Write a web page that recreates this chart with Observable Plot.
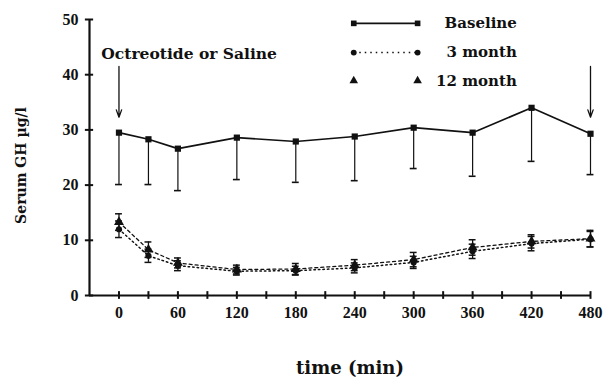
<!DOCTYPE html>
<html>
<head>
<meta charset="utf-8">
<script src="https://cdn.jsdelivr.net/npm/d3@7"></script>
<script src="https://cdn.jsdelivr.net/npm/@observablehq/plot@0.6"></script>
<style>
  html, body { margin: 0; padding: 0; background: #fff; }
  #chart { width: 608px; height: 383px; }
</style>
</head>
<body>
<div id="chart"></div>
<script>
// ---- data ----
const times = [0, 30, 60, 120, 180, 240, 300, 360, 420, 480];
const baseline = [29.5, 28.3, 26.6, 28.6, 27.9, 28.8, 30.4, 29.5, 34.0, 29.3];
const baselineLow = [20.1, 20.1, 19.0, 21.0, 20.5, 20.8, 23.0, 21.6, 24.3, 21.9];
const month3 = [12.0, 7.2, 5.4, 4.4, 4.5, 5.0, 6.0, 8.0, 9.4, 10.2];
const month3Err = [1.5, 1.2, 0.9, 0.7, 0.8, 0.9, 1.1, 1.3, 1.3, 1.4];
const month12 = [13.3, 8.3, 5.9, 4.7, 4.8, 5.5, 6.5, 8.7, 9.8, 10.3];
const month12Err = [1.5, 1.4, 0.9, 0.8, 1.0, 1.0, 1.3, 1.4, 1.2, 1.5];

const xTickLabels = [0, 60, 120, 180, 240, 300, 360, 420, 480];
const xMinorTicks = [0, 30, 60, 90, 120, 150, 180, 210, 240, 270, 300, 330, 360, 390, 420, 450, 480];
const yTicks = [0, 10, 20, 30, 40, 50];

const seriesNames = ["Baseline", "3 month", "12 month"];
const arrowTimes = [0, 480];
const annotationText = "Octreotide or Saline";
const xLabel = "time (min)";
const yLabel = "Serum GH \u00b5g/l";

// ---- tables built from arrays ----
const base = times.map((t, i) => ({t, v: baseline[i], lo: baselineLow[i]}));
const m3 = times.map((t, i) => ({t, v: month3[i], lo: month3[i] - month3Err[i], hi: month3[i] + month3Err[i]}));
const m12 = times.map((t, i) => ({t, v: month12[i], lo: month12[i] - month12Err[i], hi: month12[i] + month12Err[i]}));
const capHalf = 3.5;

// legend rows (placed in data space, upper right)
const legendY = [49.3, 44.0, 38.9];
const legX1 = 239, legX2 = 304, legTextX = 405;
const legend = seriesNames.map((name, i) => ({name, y: legendY[i]}));
const legendEnds = legend.flatMap(d => [{...d, x: legX1}, {...d, x: legX2}]);

const serif = "'DejaVu Serif', serif";
const tickFont = "'Liberation Serif', serif";
const black = "#111";
const xAxisPos = -30;   // where the y axis sits on the x scale

const chart = Plot.plot({
  width: 608,
  height: 383,
  marginLeft: 89,
  marginRight: 18,
  marginTop: 19,
  marginBottom: 88,
  x: {domain: [-30, 480]},
  y: {domain: [0, 50]},
  style: {fontFamily: tickFont, fontSize: "16px", fontWeight: "bold", color: black, background: "#fff"},
  marks: [
    // axis lines
    Plot.ruleX([xAxisPos], {stroke: black, strokeWidth: 2.2}),
    Plot.ruleY([0], {stroke: black, strokeWidth: 2.2}),
    // crossing tick marks
    Plot.ruleY(yTicks, {y: d => d, x1: xAxisPos - 4.2, x2: xAxisPos + 4.2, stroke: black, strokeWidth: 2}),
    Plot.ruleX(xMinorTicks, {x: d => d, y1: -0.7, y2: 0.7, stroke: black, strokeWidth: 2}),
    // tick labels
    Plot.axisY({ticks: yTicks, tickSize: 0, tickPadding: 11, label: null, fontSize: 16, fontFamily: tickFont, fontWeight: "bold"}),
    Plot.axisX({ticks: xTickLabels, tickSize: 0, tickPadding: 11, label: null, fontSize: 16, fontFamily: tickFont, fontWeight: "bold"}),

    // baseline error bars (downward only)
    Plot.ruleX(base, {x: "t", y1: "v", y2: "lo", stroke: black, strokeWidth: 1.2}),
    Plot.ruleY(base, {y: "lo", x1: d => d.t - capHalf, x2: d => d.t + capHalf, stroke: black, strokeWidth: 1.6}),
    Plot.line(base, {x: "t", y: "v", stroke: black, strokeWidth: 1.7}),
    Plot.dot(base, {x: "t", y: "v", symbol: "square", r: 3.5, fill: black, stroke: "none"}),

    // 12 month
    Plot.ruleX(m12, {x: "t", y1: "lo", y2: "hi", stroke: black, strokeWidth: 1.3}),
    Plot.ruleY(m12, {y: "lo", x1: d => d.t - capHalf, x2: d => d.t + capHalf, stroke: black, strokeWidth: 1.5}),
    Plot.ruleY(m12, {y: "hi", x1: d => d.t - capHalf, x2: d => d.t + capHalf, stroke: black, strokeWidth: 1.5}),
    Plot.line(m12, {x: "t", y: "v", stroke: black, strokeWidth: 1.3, strokeDasharray: "3,3"}),
    Plot.dot(m12, {x: "t", y: "v", symbol: "triangle", r: 3.7, fill: black, stroke: "none"}),

    // 3 month
    Plot.ruleX(m3, {x: "t", y1: "lo", y2: "hi", stroke: black, strokeWidth: 1.3}),
    Plot.ruleY(m3, {y: "lo", x1: d => d.t - capHalf, x2: d => d.t + capHalf, stroke: black, strokeWidth: 1.5}),
    Plot.ruleY(m3, {y: "hi", x1: d => d.t - capHalf, x2: d => d.t + capHalf, stroke: black, strokeWidth: 1.5}),
    Plot.line(m3, {x: "t", y: "v", stroke: black, strokeWidth: 1.5, strokeDasharray: "1.5,3"}),
    Plot.dot(m3, {x: "t", y: "v", symbol: "circle", r: 3.1, fill: black, stroke: "none"}),

    // annotation arrows
    Plot.arrow(arrowTimes, {x1: d => d, x2: d => d, y1: 41.5, y2: 32.3, stroke: black, strokeWidth: 1.3, headLength: 9, headAngle: 40}),
    Plot.text([annotationText], {x: -18, y: 42.9, text: d => d, textAnchor: "start", lineAnchor: "bottom", fontFamily: serif, fontSize: 15.5, fontWeight: "bold", fill: black}),

    // legend
    Plot.link(legend.filter(d => d.name === "Baseline"), {x1: legX1, x2: legX2, y1: "y", y2: "y", stroke: black, strokeWidth: 1.7}),
    Plot.link(legend.filter(d => d.name === "3 month"), {x1: legX1, x2: legX2, y1: "y", y2: "y", stroke: black, strokeWidth: 1.5, strokeDasharray: "1.5,4"}),
    Plot.dot(legendEnds, {x: "x", y: "y", symbol: d => d.name === "Baseline" ? "square" : d.name === "3 month" ? "circle" : "triangle", r: d => d.name === "3 month" ? 2.9 : 3.4, fill: black, stroke: "none"}),
    Plot.text(legend, {x: legTextX, y: "y", text: "name", textAnchor: "end", fontFamily: serif, fontSize: 15, fontWeight: "bold", fill: black}),

    // axis titles
    Plot.text([yLabel], {frameAnchor: "left", textAnchor: "middle", dx: -68, dy: 8, rotate: -90, text: d => d, fontFamily: serif, fontSize: 14, fontWeight: "bold", fill: black}),
    Plot.text([xLabel], {frameAnchor: "bottom", textAnchor: "middle", dx: 10, dy: 78, text: d => d, fontFamily: serif, fontSize: 18, fontWeight: "bold", fill: black})
  ]
});
document.getElementById("chart").appendChild(chart);
</script>
</body>
</html>
